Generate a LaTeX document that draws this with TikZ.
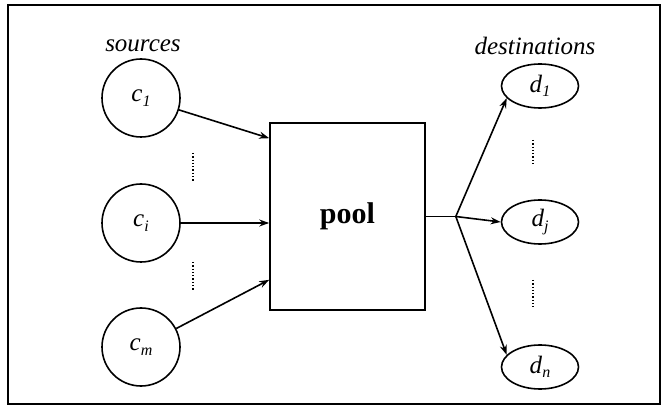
\documentclass[tikz,border=0pt]{standalone}
\usepackage{fontspec}
\setmainfont{Liberation Serif}
\usetikzlibrary{shapes.geometric,arrows.meta}
\newcommand{\sbx}[1]{\raisebox{-4.5pt}{\fontsize{16}{16}\selectfont\textit{#1}}}
\begin{document}
\begin{tikzpicture}[x=1pt,y=-1pt,
  every node/.style={font=\fontsize{25}{29}\selectfont},
  src/.style={draw,circle,line width=1.6pt,minimum size=78pt,inner sep=0pt},
  dst/.style={draw,ellipse,line width=1.6pt,minimum width=77pt,minimum height=44pt,inner sep=0pt},
  flow/.style={line width=1.6pt,-{Stealth[length=10pt,width=7pt]}},
  dotsline/.style={line width=1.3pt,dotted},
  frame/.style={line width=1.6pt}]
\useasboundingbox (0,0) rectangle (662,406);
\draw[frame] (8,5) rectangle (660,404);
\node (srclab) at (143,46) {\textit{sources}};
\node (dstlab) at (535,46) {\textit{destinations}};
\node[src] (c1) at (141,98) {\textit{c}\sbx{1}};
\node[src] (ci) at (141,223) {\textit{c}\sbx{i}};
\node[src] (cm) at (141,347) {\textit{c}\sbx{m}};
\node[draw,line width=1.6pt,minimum width=155pt,minimum height=187pt,inner sep=0pt,
      font=\fontsize{30}{34}\selectfont\bfseries] (pool) at (347.5,216.5) {pool};
\node[dst] (d1) at (540,86) {\textit{d}\sbx{1}};
\node[dst] (dj) at (540,222) {\textit{d}\sbx{j}};
\node[dst] (dn) at (540,367) {\textit{d}\sbx{n}};
\coordinate (in1) at ([yshift=-16pt]pool.north west);
\coordinate (inm) at ([yshift=31pt]pool.south west);
\coordinate (br) at ([xshift=30pt]pool.east);
\draw[flow] (c1) -- (in1);
\draw[flow] (ci) -- (ci -| pool.west);
\draw[flow] (cm) -- (inm);
\draw[line width=1.6pt] (pool.east) -- (br);
\draw[flow] (br) -- (d1.200);
\draw[flow] (br) -- (dj.west);
\draw[flow] (br) -- (dn.160);
\coordinate (a1) at (193,153); \coordinate (a2) at (193,181);
\coordinate (b1) at (193,262); \coordinate (b2) at (193,290);
\coordinate (e1) at (533,140); \coordinate (e2) at (533,166);
\coordinate (f1) at (533,280); \coordinate (f2) at (533,307);
\draw[dotsline] (a1) -- (a2);
\draw[dotsline] (b1) -- (b2);
\draw[dotsline] (e1) -- (e2);
\draw[dotsline] (f1) -- (f2);
\end{tikzpicture}
\end{document}
